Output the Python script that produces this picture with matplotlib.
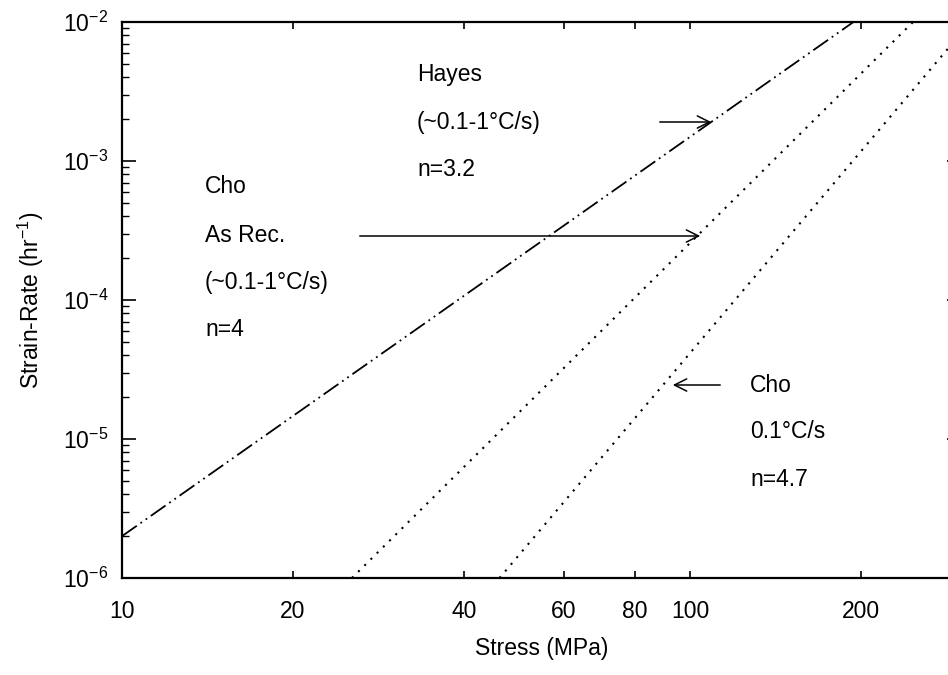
import numpy as np
import matplotlib
matplotlib.use('Agg')
import matplotlib.pyplot as plt
from matplotlib.ticker import FixedLocator, NullFormatter, LogLocator

plt.rcParams['font.family'] = ['Liberation Sans', 'DejaVu Sans']
plt.rcParams['mathtext.fontset'] = 'custom'
plt.rcParams['mathtext.rm'] = 'Liberation Sans'

# line end points (stress MPa, strain-rate 1/hr)
hayes_stress = [10, 194]
hayes_rate = [2.0e-6, 1.0e-2]
cho_asrec_stress = [25.4, 247]
cho_asrec_rate = [1.0e-6, 1.0e-2]
cho_01_stress = [46.2, 300]
cho_01_rate = [1.0e-6, 8.3e-3]

x_ticks = [10, 20, 40, 60, 80, 100, 200]
y_ticks = [1e-6, 1e-5, 1e-4, 1e-3, 1e-2]
y_ticklabels = ['10$^{-6}$', '10$^{-5}$', '10$^{-4}$', '10$^{-3}$', '10$^{-2}$']

fig = plt.figure(figsize=(9.48, 6.75), dpi=100)
ax = fig.add_axes([122/948, 97/675, 839/948, 556/675])

ax.plot(hayes_stress, hayes_rate, color='black', lw=1.3,
        linestyle=(0, (10, 2.5, 1, 2.5, 1, 2.5)))
ax.plot(cho_asrec_stress, cho_asrec_rate, color='black', lw=1.5,
        linestyle=(0, (1, 3.2)))
ax.plot(cho_01_stress, cho_01_rate, color='black', lw=1.5,
        linestyle=(0, (1, 3.2)))

ax.set_xscale('log')
ax.set_yscale('log')
ax.set_xlim(10, 300)
ax.set_ylim(1e-6, 1e-2)

ax.xaxis.set_major_locator(FixedLocator(x_ticks))
ax.set_xticklabels([str(v) for v in x_ticks])
ax.xaxis.set_minor_locator(FixedLocator([]))
ax.yaxis.set_major_locator(FixedLocator(y_ticks))
ax.set_yticklabels(y_ticklabels)
ax.yaxis.set_minor_locator(LogLocator(base=10, subs=np.arange(2, 10)))
ax.yaxis.set_minor_formatter(NullFormatter())

ax.tick_params(axis='both', which='major', direction='in', labelsize=16.5,
               top=True, right=True, width=1.2)
ax.tick_params(axis='y', which='major', length=10, pad=10)
ax.tick_params(axis='x', which='major', length=5, pad=16)
ax.tick_params(axis='y', which='minor', direction='in', length=5, width=1,
               right=True)

for s in ax.spines.values():
    s.set_linewidth(1.6)

ax.set_xlabel('Stress (MPa)', fontsize=16.5, labelpad=10)
ax.set_ylabel('Strain-Rate (hr$^{-1}$)', fontsize=16.5, labelpad=12)

# annotations
fs = 16.5
for txt, (px, py) in [('Hayes', (417, 75)), ('(~0.1-1°C/s)', (417, 122)),
                      ('n=3.2', (417, 170)),
                      ('Cho', (205, 187)), ('As Rec.', (205, 236)),
                      ('(~0.1-1°C/s)', (205, 283)), ('n=4', (205, 330)),
                      ('Cho', (750, 385)), ('0.1°C/s', (750, 432)),
                      ('n=4.7', (750, 479))]:
    fig.text(px/948, 1 - py/675, txt, fontsize=fs, ha='left', va='center')

arrow = dict(arrowstyle='->', color='black', lw=1.1, mutation_scale=22)
for (x0, y0), (x1, y1) in [((657, 122), (714, 122)),
                           ((357, 236), (703, 236)),
                           ((723, 385), (670, 385))]:
    fig.add_artist(matplotlib.patches.FancyArrowPatch(
        (x0/948, 1 - y0/675), (x1/948, 1 - y1/675),
        transform=fig.transFigure, **arrow))

fig.savefig('out.png', dpi=100)
